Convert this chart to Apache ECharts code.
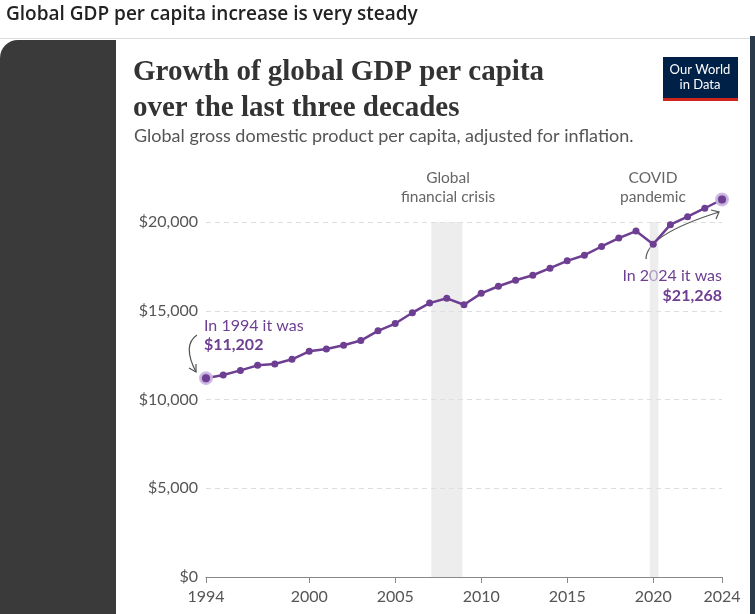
<!DOCTYPE html>
<html><head><meta charset="utf-8">
<script src="https://cdn.jsdelivr.net/npm/echarts@6/dist/echarts.min.js"></script>
<style>body{margin:0;background:#fff}#c{width:755px;height:614px}</style></head>
<body><div id="c"></div>
<script>
const years=[1994,1995,1996,1997,1998,1999,2000,2001,2002,2003,2004,2005,2006,2007,2008,2009,2010,2011,2012,2013,2014,2015,2016,2017,2018,2019,2020,2021,2022,2023,2024];
const gdp=[11202,11380,11640,11925,12000,12265,12715,12850,13055,13320,13870,14280,14890,15430,15700,15340,15980,16380,16720,17000,17400,17810,18130,18620,19095,19490,18750,19850,20300,20775,21268];
const xTicks=[1994,2000,2005,2010,2015,2020,2024];
const yTicks=[0,5000,10000,15000,20000];
const crisis=[[2007.1,2008.9],[2019.8,2020.3]];
const purple='#6D3E91';
const data=years.map((y,i)=>{const d={value:[y,gdp[i]]};if(i===0||i===years.length-1){d.symbolSize=11;d.itemStyle={color:purple,borderColor:'rgba(205,185,228,0.9)',borderWidth:3};}return d;});
const chart=echarts.init(document.getElementById('c'));
chart.setOption({
 animation:false,
 grid:{left:206,right:33,top:222,bottom:37},
 xAxis:{type:'value',min:1994,max:2024,
  axisLine:{show:true,lineStyle:{color:'#888'}},
  axisTick:{show:true,customValues:xTicks,length:6,lineStyle:{color:'#888'}},
  axisLabel:{customValues:xTicks,formatter:v=>String(v),color:'#555',fontSize:16,fontFamily:'Lato',margin:12},
  splitLine:{show:false}},
 yAxis:{type:'value',min:0,max:20000,interval:5000,
  axisLabel:{color:'#555',fontSize:16,fontFamily:'Lato',formatter:v=>'$'+v.toLocaleString('en-US'),margin:8},
  axisLine:{show:false},axisTick:{show:false},
  splitLine:{lineStyle:{color:'#ddd',type:[5,4]}}},
 series:[{type:'line',data:data,clip:false,symbol:'circle',symbolSize:7,
  lineStyle:{color:purple,width:2.5},itemStyle:{color:purple},
  markArea:{silent:true,itemStyle:{color:'rgba(225,225,225,0.6)'},
   data:crisis.map(c=>[{xAxis:c[0],yAxis:0},{xAxis:c[1],yAxis:20000}])}}],
 graphic:[
  {type:'text',left:6,top:5,style:{text:'Global GDP per capita increase is very steady',font:'600 19px "Open Sans"',fill:'#222'}},
  {type:'rect',shape:{x:0,y:38,width:755,height:1},style:{fill:'#ddd'}},
  {type:'rect',shape:{x:0,y:40,width:116,height:600,r:[18,0,0,0]},style:{fill:'#3a3a3a'}},
  {type:'rect',shape:{x:750,y:36,width:5,height:578},style:{fill:'#2a3a4a'}},
  {type:'text',left:133,top:55,style:{text:'Growth of global GDP per capita\nover the last three decades',font:'bold 29px "Liberation Serif"',lineHeight:36,fill:'#333'}},
  {type:'text',left:134,top:127,style:{text:'Global gross domestic product per capita, adjusted for inflation.',font:'18px Lato',fill:'#555'}},
  {type:'rect',shape:{x:663,y:57,width:75,height:44},style:{fill:'#002147'}},
  {type:'rect',shape:{x:663,y:98,width:75,height:3},style:{fill:'#ce261e'}},
  {type:'text',x:700,y:62,style:{text:'Our World\nin Data',font:'13px Lato',lineHeight:15,fill:'#fff',align:'center'}},
  {type:'text',x:448,y:168,style:{text:'Global\nfinancial crisis',font:'15.5px Lato',lineHeight:19,fill:'#666',align:'center'}},
  {type:'text',x:653,y:168,style:{text:'COVID\npandemic',font:'15.5px Lato',lineHeight:19,fill:'#666',align:'center'}},
  {type:'text',left:204,top:318,style:{text:'In 1994 it was',font:'16px Lato',fill:purple}},
  {type:'text',left:204,top:337,style:{text:'$11,202',font:'bold 16px Lato',fill:purple}},
  {type:'text',right:33,top:268,style:{text:'In 2024 it was',font:'16px Lato',fill:purple,align:'right'}},
  {type:'text',right:33,top:288,style:{text:'$21,268',font:'bold 16px Lato',fill:purple,align:'right'}},
  {type:'bezierCurve',shape:{x1:197,y1:335,cpx1:182,cpy1:345,x2:196,y2:372},style:{stroke:'#555',lineWidth:1.2,fill:null}},
  {type:'polyline',shape:{points:[[189,368],[196,372],[196,364]]},style:{stroke:'#555',lineWidth:1.2,fill:null}},
  {type:'bezierCurve',shape:{x1:646,y1:259,cpx1:646,cpy1:235,x2:719,y2:212},style:{stroke:'#555',lineWidth:1.2,fill:null}},
  {type:'polyline',shape:{points:[[711,210],[719,212],[716,219]]},style:{stroke:'#555',lineWidth:1.2,fill:null}}
 ]
});
</script></body></html>
